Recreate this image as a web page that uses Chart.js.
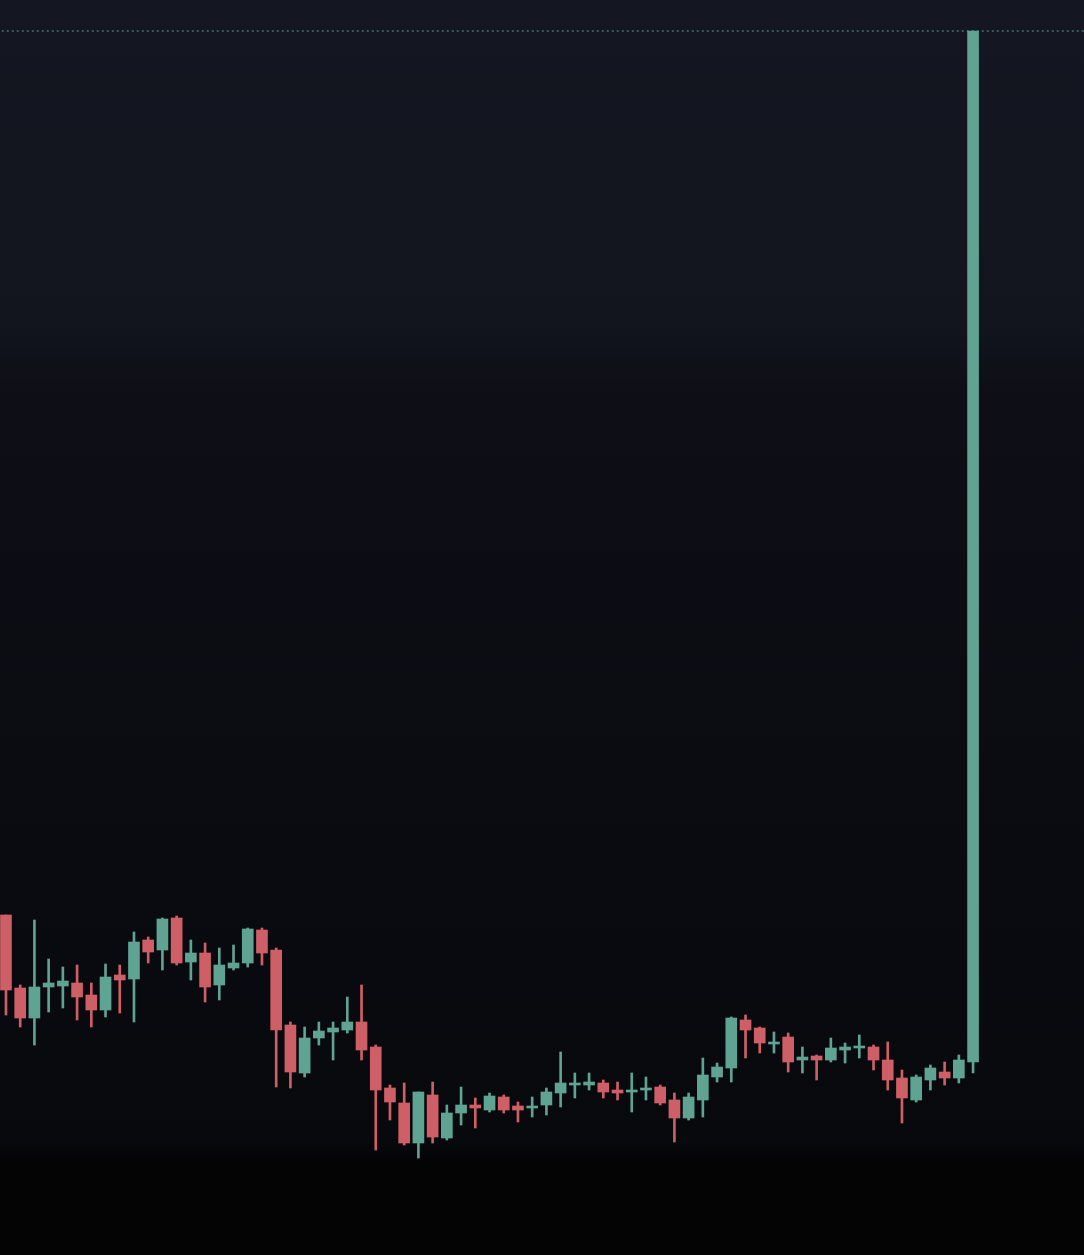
<!DOCTYPE html>
<html>
<head>
<meta charset="utf-8">
<script src="https://cdn.jsdelivr.net/npm/chart.js@4/dist/chart.umd.min.js"></script>
<style>
  html, body { margin: 0; padding: 0; background: #050506; }
  canvas { display: block; }
</style>
</head>
<body>
<canvas id="candles" width="1084" height="1255"></canvas>
<script>
// candle data (arbitrary price units)
const opens  = [34.0, 26.7, 23.7, 26.8, 26.9, 27.2, 26.0, 24.5, 28.0, 27.6,
                31.5, 30.5, 33.7, 29.3, 30.2, 27.0, 28.7, 29.2, 32.5, 30.5,
                23.0, 18.2, 21.7, 22.3, 22.5, 23.3, 20.8, 16.7, 15.2, 11.2,
                16.0, 11.7, 14.2, 15.0, 14.5, 15.8, 14.9, 14.7, 15.0, 16.2,
                17.0, 17.0, 17.2, 16.5, 16.3, 16.5, 16.8, 15.5, 13.7, 15.5,
                17.8, 18.7, 23.5, 22.7, 21.1, 21.8, 19.5, 19.9, 19.5, 20.5,
                20.7, 20.8, 19.5, 17.7, 15.5, 17.5, 18.3, 17.7, 19.3];
const closes = [26.5, 23.7, 26.8, 27.2, 27.4, 25.8, 24.5, 27.8, 27.5, 31.3,
                30.3, 33.6, 29.2, 30.2, 26.8, 29.0, 29.2, 32.6, 30.2, 22.5,
                18.3, 21.7, 22.4, 22.7, 23.3, 20.5, 16.5, 15.3, 11.2, 16.3,
                11.8, 14.2, 15.0, 14.7, 15.9, 14.5, 14.5, 14.9, 16.3, 17.2,
                17.2, 17.3, 16.3, 16.2, 16.5, 16.7, 15.2, 13.7, 15.8, 18.0,
                18.8, 23.7, 22.5, 21.2, 21.3, 19.3, 19.8, 19.5, 20.7, 20.8,
                20.9, 19.5, 17.5, 15.7, 17.8, 18.7, 17.7, 19.5, 122.4];
const highs  = [34.0, 27.0, 33.5, 29.6, 28.8, 29.0, 27.2, 29.1, 29.0, 32.3,
                31.8, 33.7, 33.9, 31.5, 31.2, 30.7, 31.0, 32.7, 32.7, 30.7,
                23.3, 22.8, 23.3, 23.3, 25.8, 27.0, 21.0, 17.0, 17.2, 16.3,
                17.3, 15.0, 16.8, 15.7, 16.2, 16.0, 15.3, 15.8, 16.7, 20.3,
                18.2, 18.2, 17.5, 17.3, 18.2, 17.8, 17.0, 16.2, 16.2, 19.7,
                19.2, 23.8, 24.0, 22.8, 22.3, 22.2, 20.8, 20.0, 21.7, 21.2,
                22.0, 21.0, 21.3, 18.5, 18.0, 19.0, 19.3, 20.0, 122.4];
const lows   = [24.0, 22.8, 21.0, 24.3, 24.7, 23.5, 22.8, 23.8, 24.2, 23.3,
                29.2, 28.5, 29.0, 27.5, 25.3, 25.5, 28.5, 28.8, 29.0, 16.8,
                16.7, 17.8, 21.0, 19.5, 22.2, 19.5, 10.5, 13.5, 11.0, 9.7,
                11.2, 11.5, 13.0, 12.7, 14.3, 14.2, 13.3, 13.8, 14.0, 14.8,
                15.7, 16.5, 15.7, 15.5, 14.3, 15.5, 15.0, 11.3, 13.5, 13.8,
                17.3, 17.3, 19.7, 20.2, 20.2, 18.3, 18.2, 17.5, 19.3, 19.2,
                19.7, 18.5, 16.5, 13.2, 15.3, 16.5, 17.0, 17.2, 18.2];
const lastPrice = 122.4;

const upColor = '#5fa393';
const downColor = '#cf5f66';

const candleColors = opens.map((o, i) => closes[i] >= o ? upColor : downColor);
const bodies = opens.map((o, i) => ({ x: i, y: [o, closes[i]] }));
const wicks = lows.map((l, i) => ({ x: i, y: [l, highs[i]] }));

const bgPlugin = {
  id: 'bg',
  beforeDraw(chart) {
    const { ctx, width, height } = chart;
    const g = ctx.createLinearGradient(0, 0, 0, height);
    g.addColorStop(0, '#141721');
    g.addColorStop(0.26, '#12151e');
    g.addColorStop(0.29, '#0f1119');
    g.addColorStop(0.31, '#0e0f16');
    g.addColorStop(0.6, '#0b0c12');
    g.addColorStop(0.91, '#08090d');
    g.addColorStop(0.925, '#040405');
    g.addColorStop(1, '#040405');
    ctx.save();
    ctx.fillStyle = g;
    ctx.fillRect(0, 0, width, height);
    ctx.restore();
  }
};

new Chart(document.getElementById('candles'), {
  type: 'bar',
  data: {
    datasets: [
      {
        type: 'line',
        data: [{ x: -1, y: lastPrice }, { x: 77, y: lastPrice }],
        borderColor: 'rgba(88,140,136,0.75)',
        borderWidth: 1.5,
        borderDash: [2, 3],
        pointRadius: 0,
        order: 3
      },
      {
        data: wicks,
        backgroundColor: candleColors,
        barThickness: 2,
        grouped: false,
        order: 2
      },
      {
        data: bodies,
        backgroundColor: candleColors,
        barThickness: 11,
        minBarLength: 2,
        grouped: false,
        order: 1
      }
    ]
  },
  options: {
    responsive: false,
    devicePixelRatio: 1,
    animation: false,
    layout: { padding: 0 },
    plugins: {
      legend: { display: false },
      tooltip: { enabled: false }
    },
    scales: {
      x: { type: 'linear', min: -0.42, max: 75.8, offset: false, display: false },
      y: { min: 0, max: 125.5, display: false }
    }
  },
  plugins: [bgPlugin]
});
</script>
</body>
</html>
